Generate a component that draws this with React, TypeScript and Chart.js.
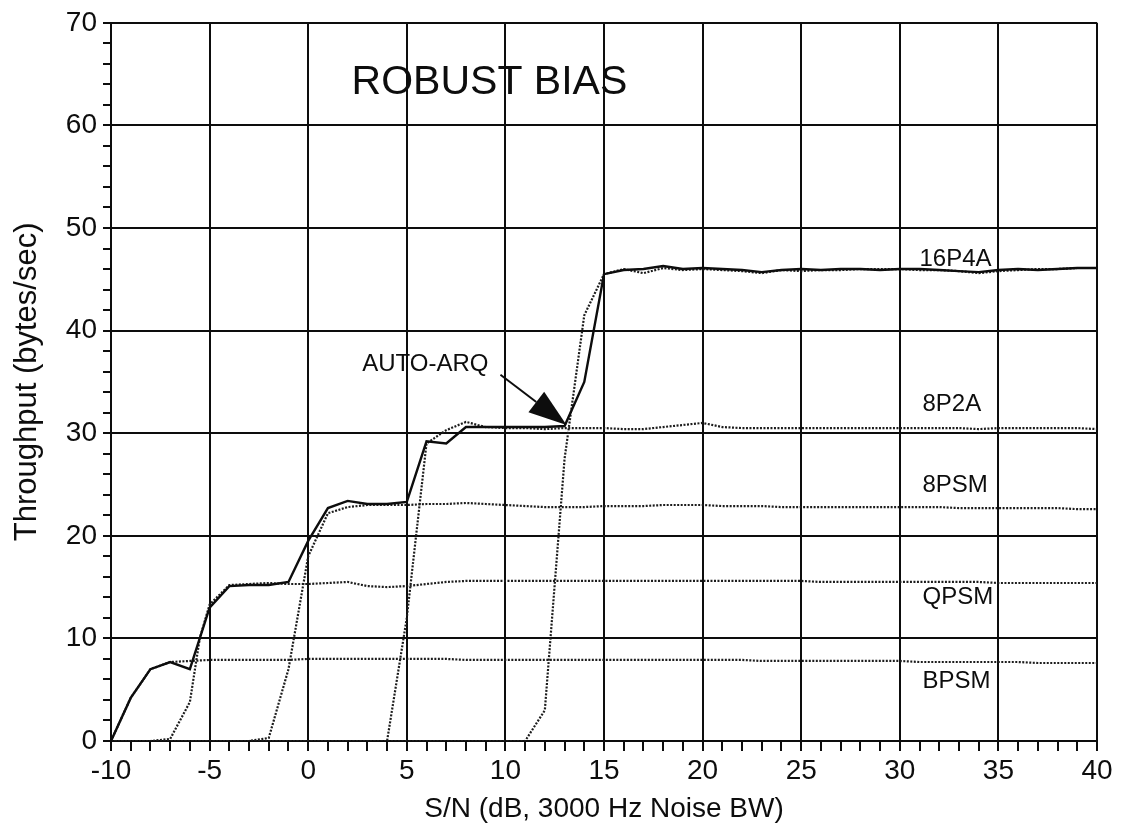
import React, { useEffect, useRef } from 'react';
import { Chart, registerables } from 'chart.js';

Chart.register(...registerables);

// ---------- data ----------
const snrDb = [
  -10, -9, -8, -7, -6, -5, -4, -3, -2, -1,
  0, 1, 2, 3, 4, 5, 6, 7, 8, 9,
  10, 11, 12, 13, 14, 15, 16, 17, 18, 19,
  20, 21, 22, 23, 24, 25, 26, 27, 28, 29,
  30, 31, 32, 33, 34, 35, 36, 37, 38, 39, 40,
];

const autoArq = [
  0, 4.2, 7.0, 7.7, 7.0, 13.0, 15.1, 15.2, 15.2, 15.5,
  19.5, 22.7, 23.4, 23.1, 23.1, 23.3, 29.2, 29.0, 30.6, 30.6,
  30.6, 30.6, 30.6, 30.7, 35.0, 45.5, 45.9, 46.0, 46.3, 46.0,
  46.1, 46.0, 45.9, 45.7, 45.9, 46.0, 45.9, 46.0, 46.0, 45.9,
  46.0, 46.0, 45.9, 45.8, 45.7, 45.9, 46.0, 45.9, 46.0, 46.1, 46.1,
];

const p16P4A = [
  0, 0, 0, 0, 0, 0, 0, 0, 0, 0,
  0, 0, 0, 0, 0, 0, 0, 0, 0, 0,
  0, 0, 3.0, 27.5, 41.5, 45.5, 46.0, 45.6, 46.1, 45.9,
  46.0, 45.9, 45.8, 45.6, 45.9, 45.8, 45.9, 45.9, 46.0, 46.0,
  46.0, 45.9, 45.9, 45.8, 45.6, 45.8, 45.9, 46.0, 46.0, 46.1, 46.1,
];

const p8P2A = [
  0, 0, 0, 0, 0, 0, 0, 0, 0, 0,
  0, 0, 0, 0, 0, 12.0, 29.0, 30.3, 31.1, 30.6,
  30.5, 30.5, 30.4, 30.5, 30.5, 30.5, 30.4, 30.4, 30.6, 30.8,
  31.0, 30.6, 30.5, 30.5, 30.5, 30.5, 30.5, 30.5, 30.5, 30.5,
  30.5, 30.5, 30.5, 30.5, 30.4, 30.5, 30.5, 30.5, 30.5, 30.5, 30.4,
];

const p8PSM = [
  0, 0, 0, 0, 0, 0, 0, 0, 0.3, 7.0,
  18.0, 22.2, 22.8, 23.0, 23.0, 23.0, 23.1, 23.1, 23.2, 23.1,
  23.0, 22.9, 22.8, 22.8, 22.8, 22.9, 22.9, 22.9, 23.0, 23.0,
  23.0, 22.9, 22.9, 22.9, 22.8, 22.8, 22.8, 22.8, 22.8, 22.8,
  22.8, 22.8, 22.8, 22.7, 22.7, 22.7, 22.7, 22.7, 22.7, 22.6, 22.6,
];

const qpsmSnr = [
  -10, -9, -8, -7, -6, -5.5, -5, -4, -3, -2, -1,
  0, 1, 2, 3, 4, 5, 6, 7, 8, 9,
  10, 11, 12, 13, 14, 15, 16, 17, 18, 19,
  20, 21, 22, 23, 24, 25, 26, 27, 28, 29,
  30, 31, 32, 33, 34, 35, 36, 37, 38, 39, 40,
];

const qpsm = [
  0, 0, 0, 0.2, 3.8, 10.0, 13.3, 15.2, 15.3, 15.4, 15.3,
  15.3, 15.4, 15.5, 15.1, 15.0, 15.1, 15.3, 15.5, 15.6, 15.6,
  15.6, 15.6, 15.6, 15.6, 15.6, 15.6, 15.6, 15.6, 15.6, 15.6,
  15.6, 15.6, 15.6, 15.6, 15.6, 15.6, 15.5, 15.5, 15.5, 15.5,
  15.5, 15.5, 15.5, 15.5, 15.5, 15.4, 15.4, 15.4, 15.4, 15.4, 15.4,
];

const bpsm = [
  0, 4.2, 7.0, 7.7, 7.8, 7.9, 7.9, 7.9, 7.9, 7.9,
  8.0, 8.0, 8.0, 8.0, 8.0, 8.0, 8.0, 8.0, 7.9, 7.9,
  7.9, 7.9, 7.9, 7.9, 7.9, 7.9, 7.9, 7.9, 7.9, 7.9,
  7.9, 7.9, 7.9, 7.8, 7.8, 7.8, 7.8, 7.8, 7.8, 7.8,
  7.8, 7.7, 7.7, 7.7, 7.7, 7.7, 7.7, 7.6, 7.6, 7.6, 7.6,
];

const xTickLabelsEvery = 5;
const yTickLabelsEvery = 10;

// ---------- styling / annotation layout ----------
const FONT = "'Liberation Sans', Arial, Helvetica, sans-serif";
const INK = '#0d0d0d';
const DOT = '#1c1c1c';

const annotations = [
  { text: 'ROBUST BIAS', x: 2.2, y: 64.2, size: 41 },
  { text: 'AUTO-ARQ', x: 2.74, y: 36.7, size: 24 },
  { text: '16P4A', x: 31.0, y: 46.9, size: 24 },
  { text: '8P2A', x: 31.15, y: 32.8, size: 24 },
  { text: '8PSM', x: 31.15, y: 24.9, size: 24 },
  { text: 'QPSM', x: 31.15, y: 14.0, size: 24 },
  { text: 'BPSM', x: 31.15, y: 5.8, size: 24 },
];
const arrowTail = [9.75, 35.7];
const arrowTip = [13.1, 30.8];

const pts = (xs: number[], ys: number[]) => xs.map((x, i) => ({ x, y: ys[i] }));

const bgPlugin = {
  id: 'bg',
  beforeDraw(chart: any) {
    const { ctx, width, height } = chart;
    ctx.save();
    ctx.fillStyle = '#ffffff';
    ctx.fillRect(0, 0, width, height);
    ctx.restore();
  },
};

const annotPlugin = {
  id: 'annot',
  afterDatasetsDraw(chart: any) {
    const { ctx } = chart;
    const xs = chart.scales.x;
    const ys = chart.scales.y;
    ctx.save();
    ctx.fillStyle = INK;
    ctx.strokeStyle = INK;
    ctx.textAlign = 'left';
    ctx.textBaseline = 'middle';
    annotations.forEach((a) => {
      ctx.font = `${a.size}px ${FONT}`;
      ctx.fillText(a.text, xs.getPixelForValue(a.x), ys.getPixelForValue(a.y));
    });
    // arrow
    const x0 = xs.getPixelForValue(arrowTail[0]);
    const y0 = ys.getPixelForValue(arrowTail[1]);
    const x1 = xs.getPixelForValue(arrowTip[0]);
    const y1 = ys.getPixelForValue(arrowTip[1]);
    const ang = Math.atan2(y1 - y0, x1 - x0);
    const headLen = 38;
    const headHalf = 13;
    const bx = x1 - headLen * Math.cos(ang);
    const by = y1 - headLen * Math.sin(ang);
    ctx.lineWidth = 2;
    ctx.beginPath();
    ctx.moveTo(x0, y0);
    ctx.lineTo(bx, by);
    ctx.stroke();
    ctx.beginPath();
    ctx.moveTo(x1, y1);
    ctx.lineTo(bx + headHalf * Math.sin(ang), by - headHalf * Math.cos(ang));
    ctx.lineTo(bx - headHalf * Math.sin(ang), by + headHalf * Math.cos(ang));
    ctx.closePath();
    ctx.fill();
    ctx.restore();
  },
};

export default function App() {
  const ref = useRef<HTMLCanvasElement | null>(null);

  useEffect(() => {
    document.body.style.margin = '0';
    const canvas = ref.current;
    if (!canvas) return;

    const dotted = (label: string, data: any) => ({
      label,
      data,
      borderColor: DOT,
      borderWidth: 2.2,
      borderDash: [2, 1.5],
      pointRadius: 0,
      tension: 0,
      fill: false,
    });

    const chart = new Chart(canvas, {
      type: 'line',
      data: {
        datasets: [
          {
            label: 'AUTO-ARQ',
            data: pts(snrDb, autoArq),
            borderColor: INK,
            borderWidth: 2.4,
            pointRadius: 0,
            tension: 0,
            fill: false,
          },
          dotted('16P4A', pts(snrDb, p16P4A)),
          dotted('8P2A', pts(snrDb, p8P2A)),
          dotted('8PSM', pts(snrDb, p8PSM)),
          dotted('QPSM', pts(qpsmSnr, qpsm)),
          dotted('BPSM', pts(snrDb, bpsm)),
        ],
      },
      options: {
        responsive: false,
        animation: false,
        events: [],
        layout: { padding: { left: 0, top: 20, right: 25, bottom: 0 } },
        plugins: {
          legend: { display: false },
          tooltip: { enabled: false },
          title: { display: false },
        },
        scales: {
          x: {
            type: 'linear',
            min: -10,
            max: 40,
            ticks: {
              stepSize: 1,
              autoSkip: false,
              maxRotation: 0,
              minRotation: 0,
              padding: 3,
              color: INK,
              font: { family: FONT, size: 28 },
              callback: (v: any) => (Number(v) % xTickLabelsEvery === 0 ? String(v) : ''),
            },
            grid: {
              color: (c: any) =>
                c.tick && Math.round(c.tick.value) % xTickLabelsEvery === 0 ? INK : 'rgba(0,0,0,0)',
              lineWidth: 2,
              drawTicks: true,
              tickLength: 10,
              tickColor: INK,
              tickWidth: 2,
            },
            border: { display: true, color: INK, width: 2 },
            title: {
              display: true,
              text: 'S/N (dB, 3000 Hz Noise BW)',
              color: INK,
              font: { family: FONT, size: 28 },
              padding: { top: 0, bottom: 4 },
            },
            afterFit: (s: any) => {
              s.height = 89;
            },
          },
          y: {
            type: 'linear',
            min: 0,
            max: 70,
            ticks: {
              stepSize: 2,
              autoSkip: false,
              padding: 6,
              color: INK,
              font: { family: FONT, size: 28 },
              callback: (v: any) => (Number(v) % yTickLabelsEvery === 0 ? String(v) : ''),
            },
            grid: {
              color: (c: any) =>
                c.tick && Math.round(c.tick.value) % yTickLabelsEvery === 0 ? INK : 'rgba(0,0,0,0)',
              lineWidth: 2,
              drawTicks: true,
              tickLength: 8,
              tickColor: INK,
              tickWidth: 2,
            },
            border: { display: true, color: INK, width: 2 },
            title: {
              display: true,
              text: 'Throughput (bytes/sec)',
              color: INK,
              font: { family: FONT, size: 31 },
              padding: { top: 9, bottom: 0 },
            },
            afterFit: (s: any) => {
              s.width = 111;
            },
          },
        },
      },
      plugins: [bgPlugin, annotPlugin],
    });

    return () => {
      chart.destroy();
    };
  }, []);

  return (
    <div style={{ width: 1122, height: 830 }}>
      <canvas ref={ref} width={1122} height={830} style={{ display: 'block' }} />
    </div>
  );
}
